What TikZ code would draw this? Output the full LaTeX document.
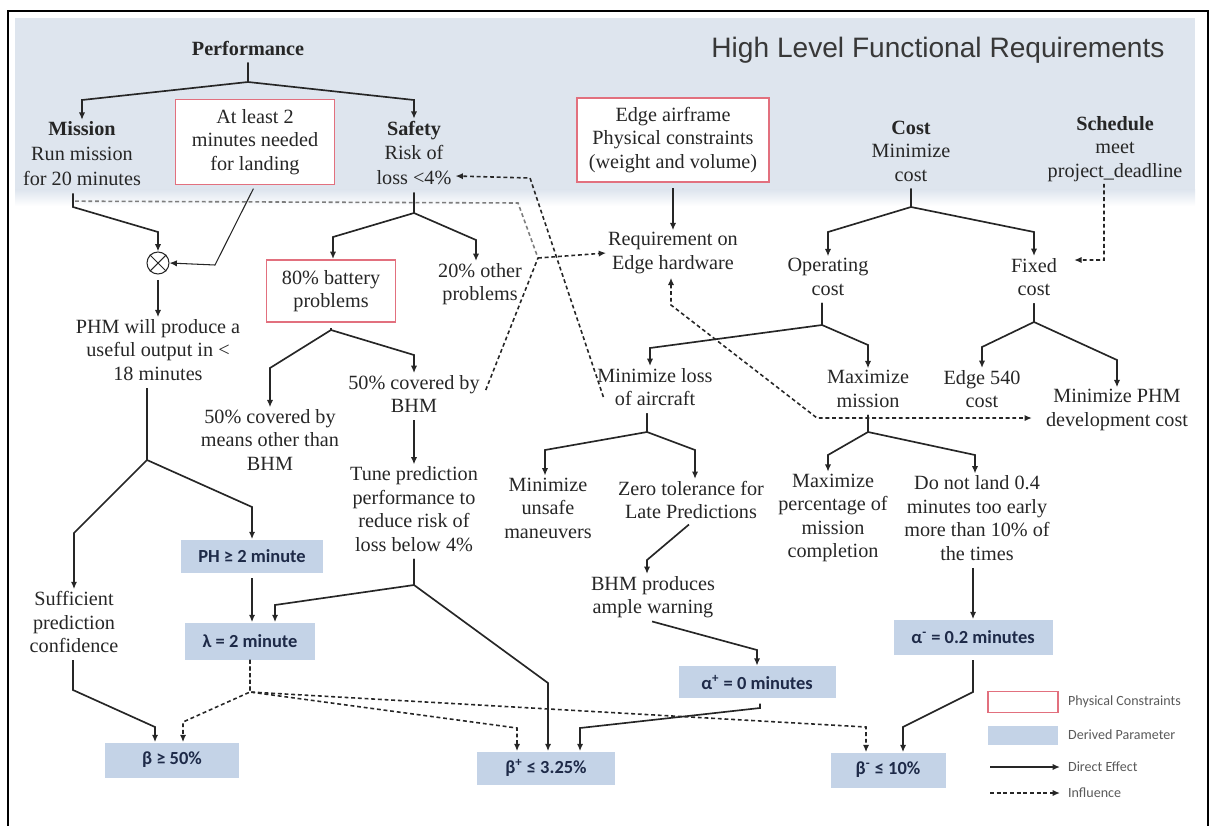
\documentclass[tikz,border=0pt]{standalone}
\usepackage{fontspec}
\setmainfont{Liberation Serif}
\newfontfamily\dpfont{Carlito}
\newfontfamily\ttlfont{Liberation Sans}
\usetikzlibrary{arrows.meta,calc}

\definecolor{inkc}{HTML}{262626}
\definecolor{pcred}{HTML}{E2707E}
\definecolor{dpfill}{HTML}{C4D3E7}
\definecolor{dptext}{HTML}{1E2A48}
\definecolor{bandc}{HTML}{DEE5EE}
\definecolor{legc}{HTML}{5A5A5A}

\tikzset{
  txt/.style={align=center, inner sep=1pt, text=inkc,
    font=\fontsize{11.5}{13.4}\selectfont},
  pcbox/.style={txt, draw=pcred, line width=1.1pt, fill=white},
  dpbox/.style={fill=dpfill, text=dptext, inner sep=1pt,
    font=\dpfont\bfseries\fontsize{10.5}{12}\selectfont},
  legtxt/.style={anchor=west, inner sep=1pt, text=legc,
    font=\dpfont\fontsize{8}{9}\selectfont},
  tip/.style={-{Latex[length=4.2pt,width=3.6pt]}},
  arr/.style={tip, draw=inkc, line width=0.95pt, shorten <=3pt},
  thinarr/.style={tip, draw=inkc, line width=0.6pt, shorten <=2pt},
  dsh/.style={draw=inkc, line width=0.9pt, dash pattern=on 2.2pt off 1.6pt},
  dsharr/.style={dsh, tip},
}

\begin{document}
\begin{tikzpicture}[x=0.02cm, y=-0.02cm]
\useasboundingbox (0,0) rectangle (1212,825);

% header band
\fill[bandc] (15,18) rectangle (1195,190);
\shade[top color=bandc, bottom color=white] (15,189.5) rectangle (1195,206);

% frame
\draw[line width=1.3pt, draw=black] (8,830) -- (8,11) -- (1208,11) -- (1208,830);

% title
\node[font=\ttlfont\fontsize{16}{19}\selectfont, text=black!78] (title) at (938,50)
  {High Level Functional Requirements};

% top level requirements
\node[txt] (perf) at (248,48) {\textbf{Performance}};
\node[txt, font=\fontsize{11.5}{14.2}\selectfont] (mission) at (82,154)
  {\textbf{Mission}\\Run mission\\for 20 minutes};
\node[txt, font=\fontsize{11.5}{14.2}\selectfont] (safety) at (414,153)
  {\textbf{Safety}\\Risk of\\loss <4\%};
\node[txt] (cost) at (911,151) {\textbf{Cost}\\Minimize\\cost};
\node[txt] (sched) at (1115,149) {\textbf{Schedule}\\meet\\project\_deadline};

\node[pcbox, minimum width=3.18cm, minimum height=1.70cm] (landing) at (255,142)
  {At least 2\\minutes needed\\for landing};
\node[pcbox, minimum width=3.84cm, minimum height=1.68cm] (edgeair) at (673,140)
  {Edge airframe\\Physical constraints\\(weight and volume)};

% left branch
\node[draw=inkc, line width=0.6pt, circle, minimum size=0.44cm, inner sep=0pt] (ox) at (158,263) {};
\draw[inkc, line width=0.6pt] (ox.north west) -- (ox.south east) (ox.north east) -- (ox.south west);
\node[txt] (phm) at (158,350) {PHM will produce a\\useful output in <\\18 minutes};
\node[txt] (suff) at (74,622) {Sufficient\\prediction\\confidence};

\node[pcbox, minimum width=2.58cm, minimum height=1.24cm] (bat) at (331,291)
  {80\% battery\\problems};
\node[txt] (oth) at (480,284) {20\% other\\problems};
\node[txt] (cov1) at (270,440) {50\% covered by\\means other than\\BHM};
\node[txt] (cov2) at (414,394) {50\% covered by\\BHM};
\node[txt] (tune) at (414,509) {Tune prediction\\performance to\\reduce risk of\\loss below 4\%};

% middle and right branches
\node[txt] (req) at (673,253) {Requirement on\\Edge hardware};
\node[txt] (opc) at (828,277) {Operating\\cost};
\node[txt] (fixed) at (1034,277) {Fixed\\cost};
\node[txt] (minloss) at (655,387) {Minimize loss\\of aircraft};
\node[txt] (maxm) at (868,389) {Maximize\\mission};
\node[txt] (e540) at (982,389) {Edge 540\\cost};
\node[txt] (minphm) at (1117,410) {Minimize PHM\\development cost};
\node[txt] (unsafe) at (548,508) {Minimize\\unsafe\\maneuvers};
\node[txt] (zero) at (691,500) {Zero tolerance for\\Late Predictions};
\node[txt] (maxpct) at (833,518) {Maximize\\percentage of\\mission\\completion};
\node[txt] (donot) at (977,518) {Do not land 0.4\\minutes too early\\more than 10\% of\\the times};
\node[txt] (bhmw) at (653,597) {BHM produces\\ample warning};

% derived parameters
\node[dpbox, minimum width=2.84cm, minimum height=0.66cm] (ph) at (252,556) {PH ≥ 2 minute};
\node[dpbox, minimum width=2.60cm, minimum height=0.74cm] (lam) at (250,641) {λ = 2 minute};
\node[dpbox, minimum width=2.70cm, minimum height=0.70cm] (beta50) at (172,760) {β ≥ 50\%};
\node[dpbox, minimum width=2.76cm, minimum height=0.66cm] (betap) at (546,768) {β\textsuperscript{+} ≤ 3.25\%};
\node[dpbox, minimum width=3.14cm, minimum height=0.64cm] (alphap) at (757,682) {α\textsuperscript{+} = 0 minutes};
\node[dpbox, minimum width=3.18cm, minimum height=0.70cm] (alpham) at (973,637) {α\textsuperscript{-} = 0.2 minutes};
\node[dpbox, minimum width=2.30cm, minimum height=0.70cm] (betam) at (888,770) {β\textsuperscript{-} ≤ 10\%};

% ---- direct effects ----
\draw[arr] (perf.south) -- (248,82) -- (82,100) -- (mission.north);
\draw[arr] (perf.south) -- (248,82) -- (414,100) -- (safety.north);
\draw[arr] ($(mission.south)+(-9,0)$) -- (73,207) -- (158,232) -- (ox.north);
\draw[thinarr] (landing.south) -- (215,265) -- (ox.east);
\draw[arr] (ox.south) -- (phm.north);
\draw[arr] ($(phm.south)+(-11,0)$) -- (147,460) -- (74,533) -- (suff.north);
\draw[arr] ($(phm.south)+(-11,0)$) -- (147,460) -- (252,507) -- (ph.north);
\draw[arr] ($(suff.south)+(-1,0)$) -- (73,690) -- (155,727) -- ($(beta50.north)+(-17,0)$);
\draw[arr] (ph.south) -- (lam.north -| ph.south);
\draw[arr] (tune.south) -- (414,585) -- (275,605) -- ($(lam.north)+(25,0)$);
\draw[arr] (tune.south) -- (414,585) -- (548,683) -- ($(betap.north)+(2,0)$);
\draw[arr] ($(alphap.south)+(3,0)$) -- (760,708) -- (580,728) -- ($(betap.north)+(34,0)$);
\draw[arr] ($(zero.south)+(2,0)$) -- (647,560) -- ($(bhmw.north)+(-6,0)$);
\draw[arr] ($(bhmw.south)+(-6,0)$) -- (757,650) -- (alphap.north);
\draw[arr] ($(minloss.south)+(-8,0)$) -- (647,432) -- (545,450) -- ($(unsafe.north)+(-3,0)$);
\draw[arr] ($(minloss.south)+(-8,0)$) -- (647,432) -- (695,450) -- ($(zero.north)+(4,0)$);
\draw[arr] (cost.south) -- (911,207) -- (828,232) -- (opc.north);
\draw[arr] (cost.south) -- (911,207) -- (1034,232) -- (fixed.north);
\draw[arr] ($(opc.south)+(-6,0)$) -- (822,325) -- (650,348) -- ($(minloss.north)+(-5,0)$);
\draw[arr] ($(opc.south)+(-6,0)$) -- (822,325) -- (868,345) -- (maxm.north);
\draw[arr] (fixed.south) -- (1034,322) -- (982,347) -- (e540.north);
\draw[arr] (fixed.south) -- (1034,322) -- (1117,360) -- (minphm.north);
\draw[arr] (maxm.south) -- (868,432) -- (828,455) -- ($(maxpct.north)+(-5,0)$);
\draw[arr] (maxm.south) -- (868,432) -- (975,455) -- ($(donot.north)+(-2,0)$);
\draw[arr] ($(donot.south)+(-4,0)$) -- (alpham.north);
\draw[arr] (alpham.south) -- (973,692) -- (903,727) -- ($(betam.north)+(15,0)$);
\draw[arr] (edgeair.south) -- (req.north);
\draw[arr] (safety.south) -- (414,213) -- (333,237) -- ($(bat.north)+(2,0)$);
\draw[arr] (safety.south) -- (414,213) -- (476,240) -- ($(oth.north)+(-4,0)$);
\draw[arr] (bat.south) -- (331,330) -- (270,368) -- (cov1.north);
\draw[arr] (bat.south) -- (331,330) -- (414,355) -- (cov2.north);
\draw[arr] (cov2.south) -- (tune.north);

% ---- influences ----
\draw[dsharr] (lam.south) -- (250,692) -- (183,722) -- ($(beta50.north)+(11,0)$);
\draw[dsharr] (lam.south) -- (250,692) -- (517,728) -- ($(betap.north)+(-29,0)$);
\draw[dsharr] (lam.south) -- (250,692) -- (866,727) -- ($(betam.north)+(-22,0)$);
\draw[dsharr] ($(minloss.west)+(8,10)$) -- (530,178) -- ($(safety.east)+(2,23)$);
\coordinate (jn) at (538,258);
\draw[dsh, draw=inkc!60] ($(mission.south)+(-7,13)$) -- (518,203) -- (jn);
\draw[dsh] ($(cov2.east)+(4,-4)$) -- (jn);
\draw[dsharr] (jn) -- (req.west);
\draw[dsh, {Latex[length=4.2pt,width=3.6pt]}-{Latex[length=4.2pt,width=3.6pt]}]
  ($(req.south)+(-2,2)$) -- (671,305) -- (817,418) -- ($(minphm.west)+(-12,8)$);
\draw[dsharr] ($(sched.south)+(-11,0)$) -- (1104,260) -- ($(fixed.north east)+(15,4)$);

% ---- legend ----
\node[draw=pcred, line width=1.1pt, minimum width=1.4cm, minimum height=0.42cm, inner sep=0pt] (lgpc) at (1023,702) {};
\node[legtxt] (lgpct) at (1066,702) {Physical Constraints};
\node[fill=dpfill, minimum width=1.4cm, minimum height=0.38cm, inner sep=0pt] (lgdp) at (1023,735) {};
\node[legtxt] (lgdpt) at (1066,735) {Derived Parameter};
\coordinate (lgsa) at (990,767);
\coordinate (lgsb) at (1060,767);
\draw[tip, draw=inkc, line width=0.95pt] (lgsa) -- (lgsb);
\node[legtxt] (lgst) at (1066,767) {Direct Effect};
\coordinate (lgda) at (990,793);
\coordinate (lgdb) at (1060,793);
\draw[dsharr] (lgda) -- (lgdb);
\node[legtxt] (lgdt) at (1066,793) {Influence};
\end{tikzpicture}
\end{document}
